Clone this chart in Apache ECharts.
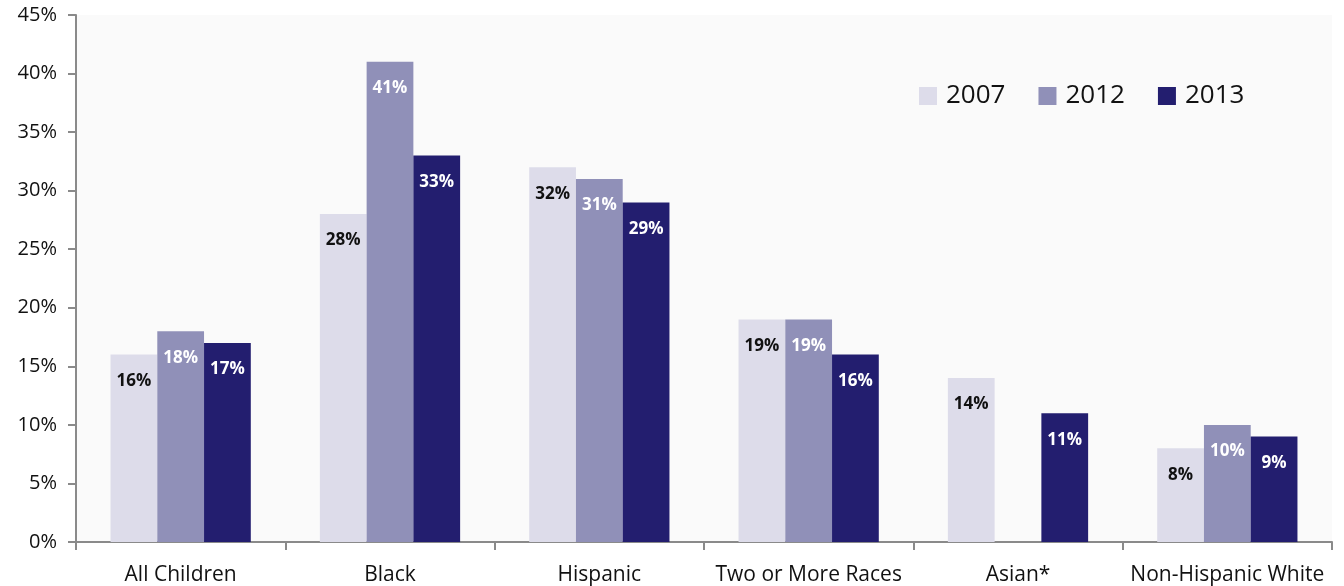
<!DOCTYPE html>
<html>
<head>
<meta charset="utf-8">
<script src="https://cdn.jsdelivr.net/npm/echarts@6/dist/echarts.min.js"></script>
<style>
  html, body { margin: 0; padding: 0; background: #ffffff; }
  #chart { width: 1344px; height: 586px; }
</style>
</head>
<body>
<div id="chart"></div>
<script>
// Child poverty rates by race/ethnicity
const categories = ['All Children', 'Black', 'Hispanic', 'Two or More Races', 'Asian*', 'Non-Hispanic White'];
const years = ['2007', '2012', '2013'];
const values2007 = [16, 28, 32, 19, 14, 8];
const values2012 = [18, 41, 31, 19, null, 10];
const values2013 = [17, 33, 29, 16, 11, 9];
const yTicks = [0, 5, 10, 15, 20, 25, 30, 35, 40, 45];

const colors = ['#dddcea', '#9090b8', '#231e6f'];
const labelColors = ['#111111', '#ffffff', '#ffffff'];
const font = '"Open Sans", "Noto Sans", sans-serif';

function makeSeries(name, data, i) {
  return {
    name: name,
    type: 'bar',
    data: data,
    barGap: '0%',
    barCategoryGap: '33%',
    itemStyle: { color: colors[i] },
    emphasis: { disabled: true },
    label: {
      show: true,
      position: 'insideTop',
      distance: 18,
      color: labelColors[i],
      fontFamily: font,
      fontWeight: 'bold',
      fontSize: 17,
      formatter: p => p.value == null ? '' : p.value + '%'
    }
  };
}

const chart = echarts.init(document.getElementById('chart'), null, { renderer: 'canvas' });
chart.setOption({
  animation: false,
  backgroundColor: '#ffffff',
  grid: {
    left: 76, right: 12, top: 15, bottom: 43,
    show: true, backgroundColor: '#fafafa', borderWidth: 0
  },
  legend: {
    data: years,
    left: 914, top: 78,
    itemWidth: 18, itemHeight: 18, itemGap: 33,
    icon: 'rect',
    textStyle: { fontFamily: font, fontSize: 26, color: '#111111', padding: [0, 0, 0, 4] }
  },
  xAxis: {
    type: 'category',
    data: categories,
    axisLine: { lineStyle: { color: '#8a8a8a', width: 2 } },
    axisTick: { show: true, length: 8, lineStyle: { color: '#8a8a8a', width: 2 } },
    axisLabel: { interval: 0, fontFamily: font, fontSize: 21, color: '#111111', margin: 23 }
  },
  yAxis: {
    type: 'value',
    min: 0, max: 45, interval: 5,
    axisLine: { show: true, lineStyle: { color: '#8a8a8a', width: 2 } },
    axisTick: { show: true, length: 8, lineStyle: { color: '#8a8a8a', width: 2 } },
    splitLine: { show: false },
    axisLabel: {
      fontFamily: font, fontSize: 20, color: '#111111', margin: 19,
      formatter: v => yTicks.includes(v) ? v + '%' : ''
    }
  },
  series: [
    makeSeries(years[0], values2007, 0),
    makeSeries(years[1], values2012, 1),
    makeSeries(years[2], values2013, 2)
  ]
});
</script>
</body>
</html>
